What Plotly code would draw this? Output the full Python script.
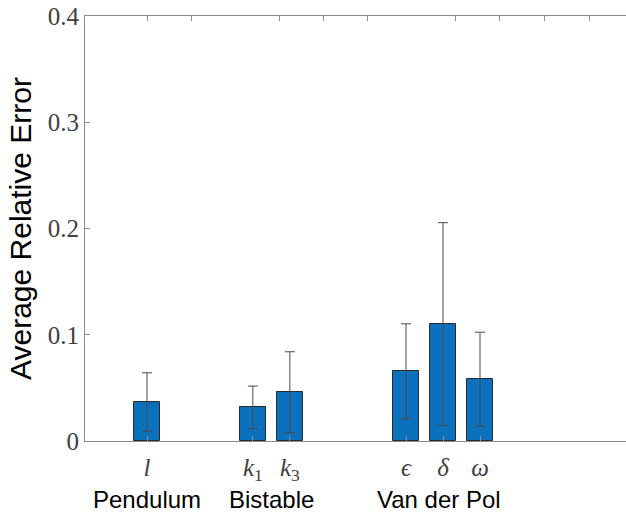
import plotly.graph_objects as go

# Average relative parameter-estimation error per system parameter
param_labels = ["<i>l</i>", "<i>k</i><sub>1</sub>", "<i>k</i><sub>3</sub>",
                "<i>ϵ</i>", "<i>δ</i>", "<i>ω</i>"]
mean_error = [0.0367, 0.0317, 0.046, 0.0656, 0.110, 0.058]
std_error = [0.0275, 0.020, 0.038, 0.0447, 0.0955, 0.0444]

group_names = ["Pendulum", "Bistable", "Van der Pol"]
group_members = [[0], [1, 2], [3, 4, 5]]

# slot positions of the bars along the x axis
bar_slots = [1, 3.86, 4.86, 8, 9, 10]
top_tick_slots = [1, 2.19, 4.57, 5.76, 6.95, 9.35, 10.54, 11.73, 12.95]
x_range = [-0.676, 13.946]

y_ticks = [0, 0.1, 0.2, 0.3, 0.4]
y_ticktext = ["0", "0.1", "0.2", "0.3", "0.4"]

serif = "Liberation Serif, Times New Roman, serif"
sans = "Liberation Sans, Arial, sans-serif"
axis_gray = "#8c8c8c"
label_gray = "#404040"

fig = go.Figure()
fig.add_trace(go.Bar(
    x=bar_slots, y=mean_error, width=0.71,
    marker=dict(color="#0C71BC", line=dict(color="#2a2a2a", width=1)),
    error_y=dict(type="data", array=std_error, visible=True,
                 color="#4a4a4a", thickness=1, width=5),
    showlegend=False, hoverinfo="skip",
))
# carrier trace for the top axis
fig.add_trace(go.Scatter(x=x_range, y=[0, 0], xaxis="x2", mode="lines",
                         line=dict(width=0), showlegend=False,
                         hoverinfo="skip"))

for name, members in zip(group_names, group_members):
    cx = sum(bar_slots[i] for i in members) / len(members)
    fig.add_annotation(x=cx, y=-0.138, xref="x", yref="paper", text=name,
                       showarrow=False, xanchor="center", yanchor="middle",
                       xshift=-4 if len(members) == 3 else 0,
                       font=dict(family=sans, size=24, color="#000000"))

fig.update_layout(
    width=626, height=516,
    margin=dict(l=85, r=0, t=16, b=75),
    plot_bgcolor="white", paper_bgcolor="white",
    bargap=0,
    xaxis=dict(range=x_range, tickvals=bar_slots, ticktext=param_labels,
               ticks="inside", ticklen=5, tickcolor=axis_gray,
               showline=True, linecolor=axis_gray, linewidth=1,
               showgrid=False, zeroline=False, ticklabelstandoff=4,
               tickfont=dict(family=serif, size=25, color=label_gray)),
    xaxis2=dict(range=x_range, overlaying="x", side="top", anchor="y",
                tickvals=top_tick_slots, ticks="inside", ticklen=5,
                tickcolor=axis_gray, showticklabels=False,
                showline=True, linecolor=axis_gray, linewidth=1,
                showgrid=False, zeroline=False),
    yaxis=dict(range=[0, 0.4], tickvals=y_ticks, ticktext=y_ticktext,
               ticks="inside", ticklen=5, tickcolor=axis_gray,
               showline=True, linecolor=axis_gray, linewidth=1,
               showgrid=False, zeroline=False,
               tickfont=dict(family=serif, size=25, color=label_gray),
               title=dict(text="Average Relative Error", standoff=7,
                          font=dict(family=sans, size=30, color="#000000"))),
)

fig.write_html("out.html")
